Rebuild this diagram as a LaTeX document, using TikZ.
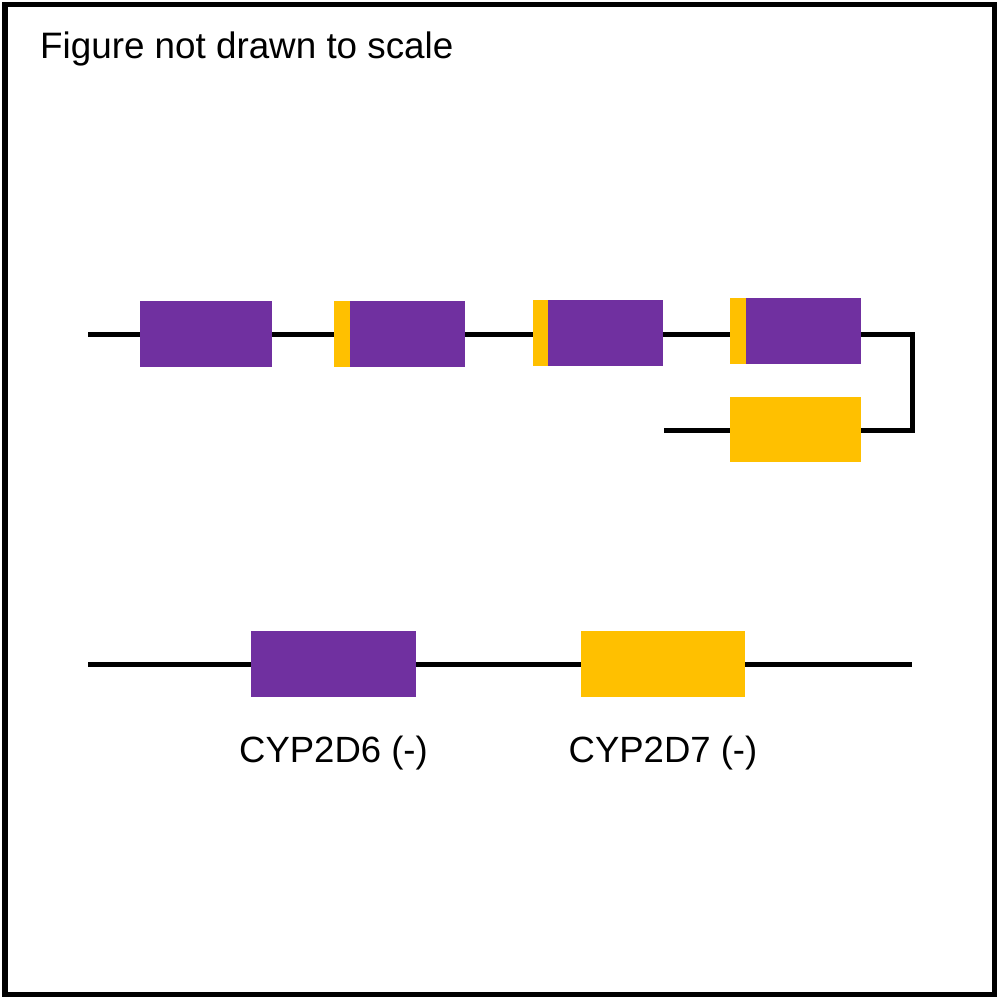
\documentclass[tikz,border=0pt]{standalone}
\usepackage{fontspec}
\setmainfont{Liberation Sans}
\definecolor{exonpurple}{HTML}{7030A0}
\definecolor{exonyellow}{HTML}{FFC000}
\begin{document}
\begin{tikzpicture}[x=1pt,y=-1pt,
  exon/.style={rectangle,inner sep=0pt,outer sep=0pt,minimum height=66pt},
  pexon/.style={exon,fill=exonpurple},
  yexon/.style={exon,fill=exonyellow},
  dna/.style={line width=5pt,black},
  lbl/.style={inner sep=0pt,font=\fontsize{36.5}{40}\selectfont}]
\useasboundingbox (0,0) rectangle (999,999);
\draw[line width=5.5pt] (5,4.5) rectangle (994.5,994.5);
\node[lbl,anchor=base west,font=\fontsize{36.8}{40}\selectfont] (title) at (40,58) {Figure not drawn to scale};
% top row
\coordinate (tl) at (88,334);
\coordinate (tr) at (912,334);
\coordinate (br) at (912,430);
\coordinate (bl) at (664,430);
\draw[dna,line join=miter] (tl) -- (tr) -- (br) -- (bl);
\node[pexon,minimum width=132pt] (e1) at (206,334) {};
\node[yexon,minimum width=16pt] (y2) at (342,334) {};
\node[pexon,minimum width=115pt] (e2) at (407.5,334) {};
\node[yexon,minimum width=15pt] (y3) at (540.5,333) {};
\node[pexon,minimum width=115pt] (e3) at (605.5,333) {};
\node[yexon,minimum width=16pt] (y4) at (738,331) {};
\node[pexon,minimum width=115pt] (e4) at (803.5,331) {};
\node[yexon,minimum width=131pt,minimum height=65pt] (e5) at (795.5,429.5) {};
% bottom row
\coordinate (ll) at (88,664.5);
\coordinate (lr) at (912,664.5);
\draw[dna] (ll) -- (lr);
\node[pexon,minimum width=165pt] (d6) at (333.5,664) {};
\node[yexon,minimum width=164pt] (d7) at (663,664) {};
\node[lbl,anchor=base] (l6) at (333.5,762) {CYP2D6 (-)};
\node[lbl,anchor=base] (l7) at (663,762) {CYP2D7 (-)};
\end{tikzpicture}
\end{document}
